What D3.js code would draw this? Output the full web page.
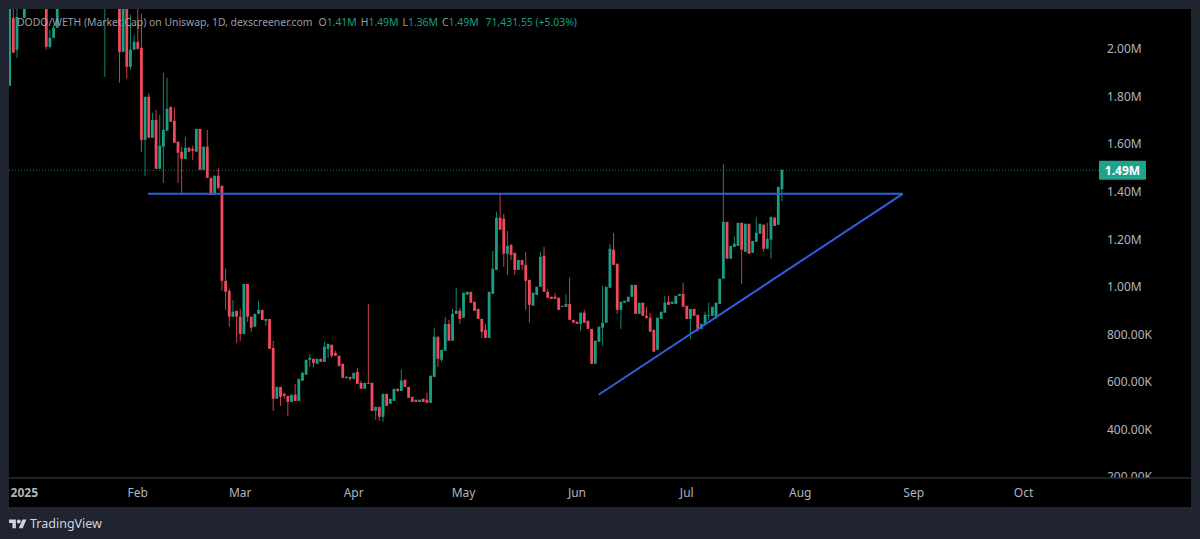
<!DOCTYPE html>
<html lang="en">
<head>
<meta charset="UTF-8">
<title>DODO/WETH Market Cap</title>
<script src="https://d3js.org/d3.v7.min.js"></script>
<style>
    html, body { margin: 0; padding: 0; background: #1f2430; overflow: hidden; }
    svg { display: block; }
    text { font-family: "Noto Sans", sans-serif; }
</style>
</head>
<body>
<svg id="canvas" width="1200" height="539"></svg>
<script>
// day numbers count from 1 Jan 2025, the first candle is firstDay, null = candle is off the top of the chart
const firstDay = -4;
const opens = [
    1845,2131,1997,null,2131,null,null,null,null,null,
    2300,2009,2047,2089,null,null,null,null,null,null,
    null,null,null,null,null,null,2300,null,null,null,
    2400,1988,2300,1925,1997,2030,2005,1618,1799,1627,
    1702,1496,1589,1656,1757,1698,1610,1568,1538,1585,
    1580,1568,1664,1492,1589,1458,1387,1467,1425,1025,
    983,874,899,874,802,1012,874,832,886,903,
    857,865,743,529,579,550,541,516,546,520,
    605,630,693,697,676,697,684,739,756,722,
    710,676,617,621,613,642,596,571,596,596,
    478,495,453,550,508,520,571,562,609,579,
    537,525,516,529,525,512,621,790,693,731,
    844,773,886,899,870,966,979,937,907,865,
    819,785,970,1071,1290,1286,1139,1177,1143,1071,
    1113,1092,1029,920,966,1000,1130,979,958,958,
    954,920,916,928,861,853,844,891,857,823,
    676,769,828,849,996,1156,1097,903,933,937,
    958,1008,886,933,878,870,819,735,865,891,
    937,928,928,962,970,920,865,907,882,823,
    844,878,878,870,928,1034,1273,1118,1168,1172,
    1269,1147,1265,1143,1189,1223,1261,1160,1198,1290,1261,1410
];
const closes = [
    2250,1984,2135,null,2300,null,null,null,null,null,
    2009,2047,2089,2250,null,null,null,null,null,null,
    null,null,null,null,null,null,2400,null,null,null,
    1988,2300,1925,1997,2030,2001,1618,1799,1627,1702,
    1496,1593,1660,1749,1694,1606,1564,1538,1585,1568,
    1572,1664,1492,1589,1458,1387,1467,1416,1025,979,
    874,895,874,802,1012,874,828,886,903,861,
    865,739,529,579,537,541,516,546,520,613,
    638,693,701,680,697,684,748,760,710,710,
    668,617,621,613,638,592,571,596,592,478,
    495,453,550,499,529,571,562,605,579,533,
    516,516,525,516,512,626,790,697,735,844,
    773,886,899,865,975,979,933,899,865,811,
    785,979,1076,1290,1240,1139,1172,1134,1071,1113,
    1092,1025,924,975,1000,1126,979,954,949,949,
    903,916,928,861,849,844,891,849,823,676,
    773,832,849,1000,1160,1092,903,937,941,958,
    1008,886,933,878,870,811,727,870,895,933,
    924,937,962,970,916,865,907,878,819,844,
    882,882,916,933,1034,1273,1118,1172,1181,1269,
    1156,1265,1139,1193,1227,1265,1160,1202,1294,1256,1420,1492
];
const highs = [
    2300,2300,2200,null,2350,null,null,null,null,null,
    2350,2080,2100,2300,null,null,null,null,null,null,
    null,null,null,null,null,null,2450,null,null,null,
    2450,2350,2350,2144,2060,2250,2148,1799,1812,1732,
    1744,1723,1900,1879,1757,1753,1610,1589,1631,1585,
    1593,1664,1664,1589,1660,1458,1467,1500,1425,1076,
    991,945,899,907,1012,1012,874,886,941,903,
    865,865,773,579,579,554,541,546,592,613,
    642,693,718,697,697,697,769,760,756,731,
    710,676,625,621,638,659,605,596,928,596,
    495,495,550,550,529,571,571,651,609,579,
    537,525,525,529,554,626,828,790,735,874,
    861,907,996,912,975,979,979,937,907,865,
    844,979,1151,1315,1391,1307,1235,1177,1143,1113,
    1113,1147,1029,975,1000,1147,1168,991,958,975,
    954,920,970,1038,861,853,891,903,857,823,
    773,832,1004,1000,1181,1227,1097,937,941,958,
    1008,1008,933,933,916,891,819,870,895,962,
    962,937,962,970,1017,920,907,907,882,844,
    895,933,916,933,1034,1517,1273,1172,1211,1269,
    1269,1265,1265,1193,1294,1265,1261,1269,1294,1294,1420,1492
];
const lows = [
    1845,1984,1963,null,2131,null,null,null,null,null,
    1997,2001,2047,2089,null,null,null,null,null,null,
    null,null,null,null,null,null,1883,null,null,null,
    1858,1988,1875,1913,1997,1997,1568,1467,1627,1627,
    1496,1496,1437,1656,1694,1606,1437,1395,1538,1568,
    1534,1568,1492,1492,1458,1387,1387,1410,983,903,
    832,874,764,773,802,853,811,832,886,861,
    836,739,478,529,499,529,457,516,520,520,
    605,630,663,663,676,684,684,701,701,710,
    663,617,613,605,613,592,571,571,592,478,
    441,436,432,499,508,520,558,562,579,533,
    516,516,516,516,512,512,621,663,684,731,
    773,773,886,844,870,966,933,899,865,785,
    785,785,970,1071,1240,1084,1050,1113,1050,1071,
    1071,903,849,920,966,1000,979,954,949,949,
    903,916,916,861,849,844,815,849,823,676,
    676,769,752,849,996,1092,886,823,933,937,
    958,886,886,878,865,811,727,735,865,891,
    924,928,928,962,916,865,781,878,811,823,
    844,861,878,865,928,1034,1118,1118,1168,1172,
    1012,1147,1139,1143,1189,1223,1147,1160,1118,1256,1261,1360
];

const monthDays = [0, 31, 59, 90, 120, 151, 181, 212, 243, 273];
const monthLabels = ["2025", "Feb", "Mar", "Apr", "May", "Jun", "Jul", "Aug", "Sep", "Oct"];
const priceTicks = [200, 400, 600, 800, 1000, 1200, 1400, 1600, 1800, 2000];
const lastPrice = 1490;

// the two hand drawn lines: [start day, end day] and [start cap, end cap]
const resistanceDays = [33.8, 240];
const resistanceCaps = [1391, 1391];
const supportDays = [156.9, 240];
const supportCaps = [546, 1391];

const green = "#1b9e84", red = "#ef4a5c", blue = "#2f5fdc";

const svg = d3.select("#canvas");
const left = 9, right = 1191, top_ = 9, plotBottom = 478, axisBottom = 507;

const x = d3.scaleLinear().domain([0, 273]).range([24.3, 1023.5]);
const y = d3.scaleLinear().domain([200, 2000]).range([477, 49]);

function priceText(v) {
    return v >= 1000 ? (v / 1000).toFixed(2) + "M" : v.toFixed(2) + "K";
}

svg.append("rect").attr("x", left).attr("y", top_)
    .attr("width", right - left).attr("height", axisBottom - top_).attr("fill", "#000");

svg.append("clipPath").attr("id", "plot").append("rect")
    .attr("x", left).attr("y", top_).attr("width", right - left).attr("height", plotBottom - top_);

// price axis, the lowest label gets cut by the time axis
const yAxis = svg.append("g").attr("clip-path", "url(#plot)").append("g")
    .attr("transform", "translate(1107,0)")
    .call(d3.axisRight(y).tickValues(priceTicks).tickFormat(priceText).tickSize(0).tickPadding(0));
yAxis.select(".domain").remove();
yAxis.selectAll("text").attr("fill", "#b2b5be").attr("font-size", 12);

// time axis
svg.append("line").attr("x1", left).attr("x2", right)
    .attr("y1", plotBottom).attr("y2", plotBottom)
    .attr("stroke", "#2a2e39").attr("stroke-width", 1.5);
svg.selectAll("text.month").data(monthDays).enter().append("text")
    .attr("class", "month")
    .attr("x", d => x(d))
    .attr("y", 497)
    .attr("text-anchor", "middle")
    .attr("font-size", 12)
    .attr("font-weight", (d, i) => i == 0 ? "bold" : "normal")
    .attr("fill", "#b2b5be")
    .text((d, i) => monthLabels[i]);

// last price line
const lastG = svg.append("g");
lastG.append("line").attr("x1", left).attr("x2", 1099)
    .attr("y1", y(lastPrice)).attr("y2", y(lastPrice))
    .attr("stroke", green).attr("stroke-width", 1).attr("stroke-dasharray", "1,2").attr("opacity", 0.8);
lastG.append("rect").attr("x", 1099).attr("y", y(lastPrice) - 9.5).attr("width", 47).attr("height", 19)
    .attr("rx", 1).attr("fill", "#1fa38a");
lastG.append("text").attr("x", 1122.5).attr("y", y(lastPrice) + 4.5).attr("text-anchor", "middle")
    .attr("font-size", 12).attr("font-weight", "bold").attr("fill", "#fff").text(priceText(lastPrice));

// candles
const days = d3.range(opens.length).filter(i => opens[i] !== null);
const candles = svg.append("g").attr("clip-path", "url(#plot)");
const colorOf = i => closes[i] >= opens[i] ? green : red;

candles.selectAll("line").data(days).enter().append("line")
    .attr("x1", i => x(i + firstDay)).attr("x2", i => x(i + firstDay))
    .attr("y1", i => y(highs[i])).attr("y2", i => y(lows[i]))
    .attr("stroke", colorOf).attr("stroke-width", 1).attr("opacity", 0.85);

candles.selectAll("rect").data(days).enter().append("rect")
    .attr("x", i => x(i + firstDay) - 1.4)
    .attr("width", 2.8)
    .attr("y", i => y(Math.max(opens[i], closes[i])))
    .attr("height", i => Math.max(1, Math.abs(y(opens[i]) - y(closes[i]))))
    .attr("fill", colorOf);

// drawn trend lines
[[resistanceDays, resistanceCaps], [supportDays, supportCaps]].forEach(function (l) {
    svg.append("line")
        .attr("x1", x(l[0][0])).attr("x2", x(l[0][1]))
        .attr("y1", y(l[1][0])).attr("y2", y(l[1][1]))
        .attr("stroke", blue).attr("stroke-width", 2);
});

// legend line on top
const legend = svg.append("text").attr("x", 17).attr("y", 25.5).attr("font-size", 10.4).attr("fill", "#9a9ea8");
legend.append("tspan").text("DODO/WETH (Market Cap) on Uniswap, 1D, dexscreener.com");
[["O", "1.41M"], ["H", "1.49M"], ["L", "1.36M"], ["C", "1.49M"]].forEach(function (p, i) {
    legend.append("tspan").attr("dx", i == 0 ? 6 : 4).text(p[0]);
    legend.append("tspan").attr("fill", green).text(p[1]);
});
legend.append("tspan").attr("dx", 7).attr("fill", green).text("71,431.55 (+5.03%)");

// TradingView mark
svg.append("path")
    .attr("transform", "translate(9,517.5) scale(0.49)")
    .attr("d", "M14 22H7V11H0V4h14v18zM28 22h-8l7.5-18h8L28 22z")
    .attr("fill", "#d1d4dc");
svg.append("circle")
    .attr("transform", "translate(9,517.5) scale(0.49)")
    .attr("cx", 20).attr("cy", 8).attr("r", 4).attr("fill", "#d1d4dc");
svg.append("text").attr("x", 30).attr("y", 527.5).attr("font-size", 12.5).attr("fill", "#d1d4dc").text("TradingView");
</script>
</body>
</html>
